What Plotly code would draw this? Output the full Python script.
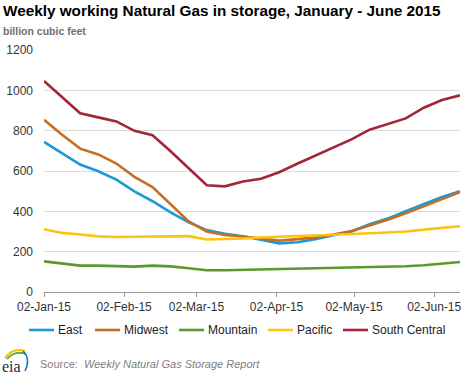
import plotly.graph_objects as go
import pandas as pd

weeks = pd.date_range("2015-01-02", periods=24, freq="7D")

east = [744, 688, 632, 599, 557, 499, 450, 395, 345, 307, 289, 276, 258, 241,
        247, 262, 282, 300, 336, 364, 400, 436, 471, 500]
midwest = [854, 780, 711, 682, 637, 571, 520, 435, 350, 300, 283, 275, 265, 255,
           262, 270, 285, 303, 330, 358, 390, 425, 460, 495]
mountain = [152, 142, 131, 131, 130, 126, 131, 127, 118, 108, 108, 110, 113, 114,
            115, 117, 119, 120, 122, 125, 128, 133, 140, 149]
pacific = [311, 293, 285, 276, 273, 274, 275, 279, 277, 260, 262, 265, 270, 275,
           278, 280, 283, 287, 291, 295, 300, 310, 318, 326]
south_central = [1046, 966, 886, 866, 846, 799, 777, 698, 612, 529, 524, 548, 562, 594,
                 636, 675, 716, 757, 805, 833, 861, 914, 952, 975]

series_names = ["East", "Midwest", "Mountain", "Pacific", "South Central"]
series_values = [east, midwest, mountain, pacific, south_central]
colors = ["#1a9ad6", "#c46f22", "#5a9a2c", "#ffc30f", "#a32638"]

tick_dates = ["2015-01-02", "2015-02-02", "2015-03-02", "2015-04-02", "2015-05-02", "2015-06-02"]
tick_labels = ["02-Jan-15", "02-Feb-15", "02-Mar-15", "02-Apr-15", "02-May-15", "02-Jun-15"]
y_ticks = [0, 200, 400, 600, 800, 1000, 1200]

fig = go.Figure()
for name, vals, c in zip(series_names, series_values, colors):
    fig.add_trace(go.Scatter(x=weeks, y=vals, name=name, mode="lines",
                             line=dict(color=c, width=2.6), showlegend=False))

FONT = "Liberation Sans, Arial, sans-serif"
L, R, T, B = 44, 8, 50, 86
W, H = 468, 378
pw, ph = W - L - R, H - T - B

def px(x):
    return (x - L) / pw

def py(y):
    return (H - B - y) / ph

annotations = [
    dict(text="<b>Weekly working Natural Gas in storage, January - June 2015</b>",
         xref="paper", yref="paper", x=px(1), y=py(10), xanchor="left", yanchor="middle",
         showarrow=False, font=dict(size=15.3, color="#000", family=FONT)),
    dict(text="<b>billion cubic feet</b>",
         xref="paper", yref="paper", x=px(1), y=py(31), xanchor="left", yanchor="middle",
         showarrow=False, font=dict(size=10.5, color="#707070", family=FONT)),
    dict(text="Source:  <i>Weekly Natural Gas Storage Report</i>",
         xref="paper", yref="paper", x=px(38), y=py(364), xanchor="left", yanchor="middle",
         showarrow=False, font=dict(size=11, color="#808080", family=FONT)),
    dict(text="eia",
         xref="paper", yref="paper", x=px(0), y=py(366), xanchor="left", yanchor="middle",
         showarrow=False, font=dict(size=16, color="#1f2a44", family="Liberation Serif, serif")),
]
shapes = [
    dict(type="path", xref="paper", yref="paper",
         path=f"M {px(5)},{py(358)} Q {px(13)},{py(347)} {px(25)},{py(351)}",
         line=dict(color="#f5c400", width=2)),
    dict(type="path", xref="paper", yref="paper",
         path=f"M {px(7)},{py(359)} Q {px(15)},{py(350)} {px(26)},{py(354)}",
         line=dict(color="#6aa843", width=2)),
    dict(type="path", xref="paper", yref="paper",
         path=f"M {px(23)},{py(351)} Q {px(31)},{py(359)} {px(25)},{py(371)}",
         line=dict(color="#1a74b8", width=1.5)),
]

# legend (drawn as key lines + labels)
legend_x = [29, 95, 179, 268, 343]
legend_y = 330
for name, c, lx in zip(series_names, colors, legend_x):
    shapes.append(dict(type="line", xref="paper", yref="paper",
                       x0=px(lx), x1=px(lx + 25), y0=py(legend_y), y1=py(legend_y),
                       line=dict(color=c, width=2.6)))
    annotations.append(dict(text=name, xref="paper", yref="paper",
                            x=px(lx + 27), y=py(legend_y), xanchor="left", yanchor="middle",
                            showarrow=False, font=dict(size=12, color="#222", family=FONT)))

fig.update_layout(
    width=W, height=H,
    margin=dict(l=L, r=R, t=T, b=B, autoexpand=False),
    paper_bgcolor="white", plot_bgcolor="white",
    font=dict(family=FONT, size=12, color="#333"),
    showlegend=False,
    xaxis=dict(type="date", range=["2015-01-02", "2015-06-12"],
               tickvals=tick_dates, ticktext=tick_labels, automargin=False,
               showgrid=False, showline=True, linecolor="#999", linewidth=1,
               ticks="outside", ticklen=4, tickcolor="#999",
               tickfont=dict(size=12, color="#333"), zeroline=False),
    yaxis=dict(range=[0, 1200], tickvals=y_ticks, showgrid=True, gridcolor="#dcdcdc",
               gridwidth=1, zeroline=False, showline=False, ticks="", automargin=False,
               ticklabelstandoff=10,
               tickfont=dict(size=12, color="#333")),
    annotations=annotations,
    shapes=shapes,
)

fig.write_html("out.html", config={"displayModeBar": False},
               post_script="document.body.style.margin='0';")
